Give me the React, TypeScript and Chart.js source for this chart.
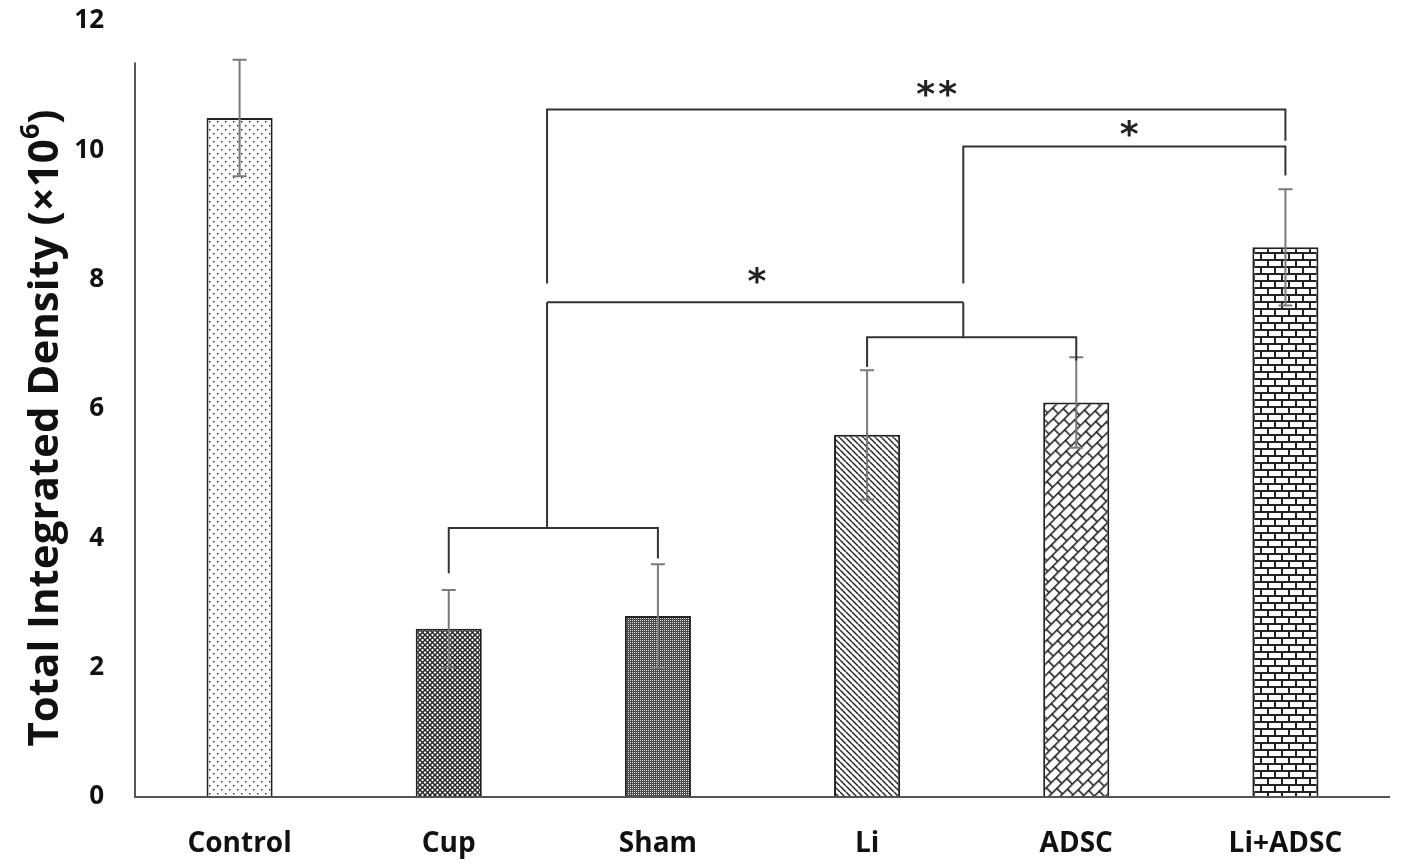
import React, { useEffect, useRef } from "react";
import { Chart, registerables } from "chart.js";

Chart.register(...registerables);

// ---- data ----
const categories = ["Control", "Cup", "Sham", "Li", "ADSC", "Li+ADSC"];
const means = [10.5, 2.6, 2.8, 5.6, 6.1, 8.5];
const errors = [0.9, 0.6, 0.8, 1.0, 0.7, 0.9];
const yTicks = [0, 2, 4, 6, 8, 10, 12];
const patternKinds = ["dots", "diamond", "fine", "diag", "diagBrick", "brick"];

// significance brackets: polylines of [category index, value]
const brackets: [number, number][][] = [
  [[1, 3.46], [1, 4.16], [2, 4.16], [2, 3.69]],
  [[1.47, 4.16], [1.47, 7.65]],
  [[3, 6.65], [3, 7.11], [4, 7.11], [4, 6.75]],
  [[3.46, 7.11], [3.46, 7.65]],
  [[1.47, 7.65], [3.46, 7.65]],
  [[1.47, 7.94], [1.47, 10.63], [5, 10.63], [5, 10.15]],
  [[3.46, 7.94], [3.46, 10.06], [5, 10.06], [5, 9.61]],
];
const starLabels = ["*", "**", "*"];
const starX = [2.48, 3.34, 4.26];
const starY = [8.07, 10.96, 10.34];

const yTitleMain = "Total Integrated Density (\u00d710";
const yTitleSup = "6";
const yTitleEnd = ")";
const FONT = "'Open Sans', 'DejaVu Sans', sans-serif";

function makePattern(kind: string): CanvasPattern | string {
  const c = document.createElement("canvas");
  const g = c.getContext("2d")!;
  const ink = "#222";
  if (kind === "dots") {
    c.width = 8; c.height = 8;
    g.fillStyle = "#fff"; g.fillRect(0, 0, 8, 8);
    g.fillStyle = "#333";
    g.fillRect(1, 1, 1, 1);
    g.fillRect(5, 5, 1, 1);
    g.fillStyle = "#888";
    g.fillRect(2, 1, 1, 1);
    g.fillRect(6, 5, 1, 1);
    g.fillRect(1, 2, 1, 1);
    g.fillRect(5, 6, 1, 1);
  } else if (kind === "diamond") {
    const s = 5;
    c.width = s; c.height = s;
    g.fillStyle = "#fff"; g.fillRect(0, 0, s, s);
    g.strokeStyle = ink; g.lineWidth = 1.4;
    for (const o of [-s, 0, s]) {
      g.beginPath(); g.moveTo(o, 0); g.lineTo(o + s, s); g.stroke();
      g.beginPath(); g.moveTo(o + s, 0); g.lineTo(o, s); g.stroke();
    }
  } else if (kind === "fine") {
    c.width = 2; c.height = 2;
    g.fillStyle = "#4a4a4a"; g.fillRect(0, 0, 2, 2);
    g.fillStyle = "#e0e0e0"; g.fillRect(0, 0, 1, 1);
  } else if (kind === "diag") {
    const s = 6;
    c.width = s; c.height = s;
    g.fillStyle = "#fff"; g.fillRect(0, 0, s, s);
    g.strokeStyle = ink; g.lineWidth = 1.4;
    for (const o of [-s, 0, s]) {
      g.beginPath(); g.moveTo(o, 0); g.lineTo(o + s, s); g.stroke();
    }
  } else if (kind === "brick" || kind === "diagBrick") {
    const L = 14;
    const h = kind === "brick" ? 7 : 8;
    const w = kind === "brick" ? 2 : 1.6;
    c.width = L; c.height = 2 * h;
    g.fillStyle = "#fff"; g.fillRect(0, 0, L, 2 * h);
    g.fillStyle = ink;
    g.fillRect(0, 0, L, w);
    g.fillRect(0, h, L, w);
    g.fillRect(0, 0, w, h);
    g.fillRect(L / 2, h, w, h);
  }
  const p = g.createPattern(c, "repeat")!;
  if (kind === "diagBrick" && (p as any).setTransform) {
    p.setTransform(new DOMMatrix().rotate(-45));
  }
  return p;
}

const overlayPlugin = {
  id: "overlay",
  afterDatasetsDraw(chart: any) {
    const { ctx, scales, chartArea } = chart;
    const x = scales.x;
    const y = scales.y;
    ctx.save();
    // axes
    ctx.strokeStyle = "#555";
    ctx.lineWidth = 2;
    ctx.beginPath();
    ctx.moveTo(chartArea.left, y.getPixelForValue(11.36));
    ctx.lineTo(chartArea.left, y.getPixelForValue(0));
    ctx.lineTo(chartArea.right, y.getPixelForValue(0));
    ctx.stroke();

    // error bars
    const meta = chart.getDatasetMeta(0);
    ctx.strokeStyle = "#7a7a7a";
    ctx.lineWidth = 2;
    meta.data.forEach((bar: any, i: number) => {
      const px = bar.x;
      const top = y.getPixelForValue(means[i] + errors[i]);
      const bot = y.getPixelForValue(means[i] - errors[i]);
      ctx.beginPath();
      ctx.moveTo(px, top); ctx.lineTo(px, bot);
      ctx.moveTo(px - 7, top); ctx.lineTo(px + 7, top);
      ctx.moveTo(px - 7, bot); ctx.lineTo(px + 7, bot);
      ctx.stroke();
    });

    // brackets
    ctx.strokeStyle = "#333";
    ctx.lineWidth = 2;
    brackets.forEach((pts) => {
      ctx.beginPath();
      pts.forEach(([ci, v], k) => {
        const px = x.getPixelForValue(ci);
        const py = y.getPixelForValue(v);
        if (k === 0) ctx.moveTo(px, py); else ctx.lineTo(px, py);
      });
      ctx.stroke();
    });

    // stars
    ctx.fillStyle = "#222";
    ctx.font = `bold 36px 'DejaVu Sans', sans-serif`;
    ctx.textAlign = "center";
    ctx.textBaseline = "alphabetic";
    (ctx as any).letterSpacing = "3px";
    starLabels.forEach((t, i) => {
      const m = ctx.measureText(t);
      const cx = x.getPixelForValue(starX[i]);
      const cy = y.getPixelForValue(starY[i]);
      const asc = m.actualBoundingBoxAscent;
      const desc = m.actualBoundingBoxDescent;
      ctx.fillText(t, cx, cy + (asc - desc) / 2);
    });
    (ctx as any).letterSpacing = "0px";

    // y title
    ctx.translate(46, 428);
    ctx.rotate(-Math.PI / 2);
    const big = `bold 42px ${FONT}`;
    const small = `bold 27px ${FONT}`;
    ctx.font = big;
    const w1 = ctx.measureText(yTitleMain).width;
    const w3 = ctx.measureText(yTitleEnd).width;
    ctx.font = small;
    const w2 = ctx.measureText(yTitleSup).width;
    const total = w1 + w2 + w3;
    let cx = -total / 2;
    ctx.textAlign = "left";
    ctx.textBaseline = "middle";
    ctx.fillStyle = "#111";
    ctx.font = big;
    ctx.fillText(yTitleMain, cx, 0);
    cx += w1;
    ctx.font = small;
    ctx.fillText(yTitleSup, cx, -15);
    cx += w2;
    ctx.font = big;
    ctx.fillText(yTitleEnd, cx, 0);
    ctx.restore();
  },
};

export default function App() {
  const ref = useRef<HTMLCanvasElement | null>(null);
  useEffect(() => {
    if (!ref.current) return;
    const patterns = patternKinds.map(makePattern);
    const chart = new Chart(ref.current, {
      type: "bar",
      data: {
        labels: categories,
        datasets: [
          {
            data: means,
            backgroundColor: patterns as any,
            borderColor: "#222",
            borderWidth: 2,
            barPercentage: 0.316,
            categoryPercentage: 1,
          },
        ],
      },
      options: {
        animation: false,
        responsive: true,
        maintainAspectRatio: false,
        layout: { padding: { top: 21, right: 12, left: 0, bottom: 0 } },
        plugins: { legend: { display: false }, tooltip: { enabled: false } },
        scales: {
          x: {
            type: "category",
            offset: true,
            grid: { display: false, drawTicks: false },
            border: { display: false },
            ticks: {
              padding: 30,
              color: "#111",
              maxRotation: 0,
              autoSkip: false,
              font: { family: FONT, size: 28, weight: "bold" },
            },
            afterFit: (s: any) => { s.height = 68; s.paddingLeft = 0; s.paddingRight = 0; },
          },
          y: {
            min: 0,
            max: 12,
            grid: { display: false, drawTicks: false },
            border: { display: false },
            ticks: {
              padding: 31,
              color: "#111",
              font: { family: FONT, size: 26, weight: "bold" },
            },
            afterBuildTicks: (s: any) => { s.ticks = yTicks.map((v) => ({ value: v })); },
            afterFit: (s: any) => { s.width = 135; s.paddingTop = 0; s.paddingBottom = 0; },
          },
        },
      },
      plugins: [overlayPlugin],
    });
    return () => chart.destroy();
  }, []);
  return (
    <div style={{ position: "fixed", left: 0, top: 0, width: 1402, height: 865, background: "#fff" }}>
      <canvas ref={ref} />
    </div>
  );
}
